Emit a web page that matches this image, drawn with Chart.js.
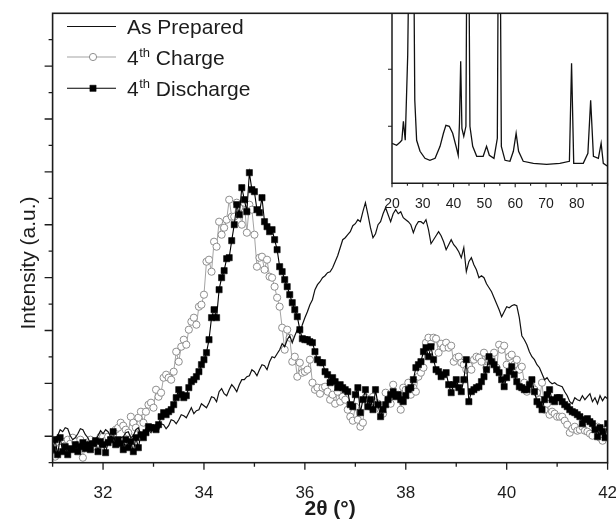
<!DOCTYPE html>
<html><head><meta charset="utf-8">
<script src="https://cdn.jsdelivr.net/npm/chart.js@4.4.1/dist/chart.umd.min.js"></script>
<style>
html,body{margin:0;padding:0;background:#fff;}
#wrap{position:relative;width:616px;height:522px;overflow:hidden;}
#main{position:absolute;left:0;top:0;}
#inset{position:absolute;left:370px;top:0;}
</style></head><body>
<div id="wrap"><canvas id="main" width="616" height="522"></canvas><canvas id="inset" width="246" height="210"></canvas></div>
<script>
// ---------- data ----------
const twoTheta = [
31,31.05,31.1,31.15,31.2,31.25,31.3,31.35,31.4,31.45,31.5,31.55,31.6,31.65,31.7,31.75,31.8,31.85,31.9,31.95,
32,32.05,32.1,32.15,32.2,32.25,32.3,32.35,32.4,32.45,32.5,32.55,32.6,32.65,32.7,32.75,32.8,32.85,32.9,32.95,
33,33.05,33.1,33.15,33.2,33.25,33.3,33.35,33.4,33.45,33.5,33.55,33.6,33.65,33.7,33.75,33.8,33.85,33.9,33.95,
34,34.05,34.1,34.15,34.2,34.25,34.3,34.35,34.4,34.45,34.5,34.55,34.6,34.65,34.7,34.75,34.8,34.85,34.9,34.95,
35,35.05,35.1,35.15,35.2,35.25,35.3,35.35,35.4,35.45,35.5,35.55,35.6,35.65,35.7,35.75,35.8,35.85,35.9,35.95,
36,36.05,36.1,36.15,36.2,36.25,36.3,36.35,36.4,36.45,36.5,36.55,36.6,36.65,36.7,36.75,36.8,36.85,36.9,36.95,
37,37.05,37.1,37.15,37.2,37.25,37.3,37.35,37.4,37.45,37.5,37.55,37.6,37.65,37.7,37.75,37.8,37.85,37.9,37.95,
38,38.05,38.1,38.15,38.2,38.25,38.3,38.35,38.4,38.45,38.5,38.55,38.6,38.65,38.7,38.75,38.8,38.85,38.9,38.95,
39,39.05,39.1,39.15,39.2,39.25,39.3,39.35,39.4,39.45,39.5,39.55,39.6,39.65,39.7,39.75,39.8,39.85,39.9,39.95,
40,40.05,40.1,40.15,40.2,40.25,40.3,40.35,40.4,40.45,40.5,40.55,40.6,40.65,40.7,40.75,40.8,40.85,40.9,40.95,
41,41.05,41.1,41.15,41.2,41.25,41.3,41.35,41.4,41.45,41.5,41.55,41.6,41.65,41.7,41.75,41.8,41.85,41.9,41.95,
42];

const asPrepared = [
23,25,27,33,31,35,34,27,23,25,29,34,33,28,25,19,18,23,27,32,
29,33,31,26,25,21,21,25,26,30,31,25,27,33,35,28,29,34,33,30,
35,38,33,39,38,34,37,43,42,39,43,48,47,45,50,55,49,52,53,59,
57,55,60,66,65,61,71,74,69,67,73,78,75,71,78,83,83,86,87,93,
91,87,93,98,97,93,101,106,105,109,113,119,116,123,127,120,127,133,129,138,
145,151,158,163,173,178,181,185,187,190,191,195,201,207,215,223,225,228,231,237,
239,243,241,251,260,248,235,225,229,238,241,249,255,248,241,249,253,249,251,245,
243,241,238,230,237,241,241,239,243,233,219,223,227,231,227,221,213,218,223,218,
215,211,205,215,191,201,205,198,193,185,187,185,179,175,171,165,159,153,146,151,
156,155,157,158,157,145,127,123,118,111,106,103,98,95,89,83,85,81,79,80,
78,77,76,71,67,61,59,65,63,62,67,63,66,69,61,65,59,67,62,66,
64];

const charge4 = [
13,6,18,15,21,17,23,19,25,21,18,23,5,16,20,23,16,21,18,26,
26,22,26,23,28,33,35,40,37,33,30,46,40,35,45,51,40,51,58,60,
55,73,66,70,85,88,85,83,91,111,101,116,123,118,133,141,145,138,156,158,
168,201,203,191,221,216,241,228,235,243,263,246,246,260,255,238,260,230,258,253,
228,196,205,206,193,203,186,185,176,165,156,135,113,133,125,101,106,86,100,90,
91,93,103,80,73,75,69,75,76,71,63,68,59,71,61,66,63,53,46,42,
56,43,36,40,65,58,56,66,60,59,53,49,70,63,59,78,68,68,53,75,
73,80,68,75,71,86,90,95,120,125,119,125,124,110,119,115,120,115,117,101,
105,106,100,98,93,97,93,103,106,105,101,110,95,103,100,110,95,118,113,117,
98,106,108,98,103,93,96,80,71,76,76,73,70,63,80,53,59,48,51,49,
46,46,46,42,38,30,34,36,32,33,36,32,31,29,27,36,36,25,22,33,
34];

const discharge4 = [
13,23,8,25,11,16,8,14,13,18,11,16,20,14,18,13,19,22,11,21,
18,10,20,23,31,18,23,19,13,23,15,21,11,25,15,28,25,30,36,35,
35,33,38,46,50,48,51,53,58,65,73,68,65,67,75,81,83,86,91,98,
103,110,123,145,153,145,173,185,192,204,205,222,238,258,248,275,263,251,290,273,
271,253,250,265,241,236,231,233,223,213,196,191,183,176,168,160,153,146,133,124,
123,123,121,120,111,103,100,100,91,88,80,85,81,75,78,75,73,71,58,56,
68,75,50,63,73,56,63,53,73,58,46,53,58,63,68,71,66,68,63,61,
67,73,75,83,95,98,101,111,115,106,116,103,93,91,86,88,90,78,70,78,
83,75,71,83,103,61,71,73,75,76,81,86,93,106,101,98,93,90,83,76,
85,91,96,88,81,76,75,73,73,78,83,71,61,58,53,63,68,73,63,61,
65,65,61,58,56,53,51,50,48,46,39,43,44,41,39,33,26,35,31,25,
39];

const seriesNames = ['As Prepared', '4th Charge', '4th Discharge'];
const xTickValues = [32, 34, 36, 38, 40, 42];
const xTickLabels = ['32', '34', '36', '38', '40', '42'];
const xMinorTicks = [31, 33, 35, 37, 39, 41];

// inset: full-range pattern
const insetTwoTheta = [20,21.5,22.6,23.2,23.7,24.3,25.1,25.8,26.3,26.9,27.4,28.0,29.1,30.7,32.3,34.0,35.6,36.7,37.5,38.6,
  39.7,40.8,41.5,41.9,42.3,42.7,43.3,44.0,44.6,45.3,46.2,47.5,49.6,50.7,51.6,53.1,54.2,54.8,55.5,56.7,
  58.3,59.4,60.3,61.1,62.6,65.9,70.2,74.5,77.6,78.3,79.0,82.1,83.6,84.5,85.4,87.0,87.9,88.6,90];
const insetIntensity = [40,38,41,43,62,43,128,300,420,300,83,43,32,25,23,25,37,50,58,57,
  50,37,28,60,122,55,47,57,420,57,37,27,27,37,28,25,45,420,37,23,
  22,32,50,32,22,20,19,20,22,120,20,20,30,83,27,25,40,20,17];
const insetTickValues = [20, 30, 40, 50, 60, 70, 80];
const insetTickLabels = ['20', '30', '40', '50', '60', '70', '80'];
const insetMinorTicks = [25, 35, 45, 55, 65, 75, 85, 90];
const insetYTicks = [57, 114];

// ---------- styling ----------
const INK = '#1c1c1c';
const FONT = '"Liberation Sans", Arial, Helvetica, sans-serif';
Chart.defaults.font.family = FONT;
Chart.defaults.color = INK;

const yTickStep = 26.44;
const yTicks = [];
for (let k = 0; k <= 16; k++) yTicks.push(k * yTickStep);

const pts = (xs, ys) => xs.map((x, i) => ({x, y: ys[i]}));

const framePlugin = {
  id: 'frame',
  afterDraw(chart) {
    const {ctx, chartArea: a} = chart;
    const xs = chart.scales.x, ys = chart.scales.y;
    ctx.save();
    ctx.strokeStyle = INK;
    ctx.lineWidth = 1.6;
    ctx.strokeRect(a.left, a.top, a.right - a.left, a.bottom - a.top);
    ctx.lineWidth = 1.3;
    ctx.beginPath();
    xTickValues.forEach(v => { const p = xs.getPixelForValue(v); ctx.moveTo(p, a.bottom); ctx.lineTo(p, a.bottom + 7); });
    xMinorTicks.forEach(v => { const p = xs.getPixelForValue(v); ctx.moveTo(p, a.bottom); ctx.lineTo(p, a.bottom + 4); });
    yTicks.forEach((v, i) => { const p = ys.getPixelForValue(v); const len = (i % 2 === 1) ? 8 : 4; ctx.moveTo(a.left, p); ctx.lineTo(a.left - len, p); });
    ctx.stroke();
    // y axis title
    ctx.save();
    ctx.translate(29, 263);
    ctx.rotate(-Math.PI / 2);
    ctx.font = '21px ' + FONT;
    ctx.fillStyle = INK;
    ctx.textAlign = 'center';
    ctx.textBaseline = 'middle';
    ctx.fillText('Intensity (a.u.)', 0, 0);
    ctx.restore();
    // legend
    const baselines = [33.5, 64.5, 95.5];
    const mids = [26.5, 57, 88.3];
    chart.data.datasets.forEach((ds, i) => {
      const my = mids[i];
      ctx.strokeStyle = ds.borderColor;
      ctx.lineWidth = ds.borderWidth;
      ctx.beginPath(); ctx.moveTo(67, my); ctx.lineTo(116, my); ctx.stroke();
      if (ds.pointRadius > 0) {
        ctx.fillStyle = ds.pointBackgroundColor;
        ctx.strokeStyle = ds.pointBorderColor;
        ctx.lineWidth = ds.pointBorderWidth;
        Chart.helpers.drawPoint(ctx, {pointStyle: ds.pointStyle, radius: ds.pointRadius, borderWidth: ds.pointBorderWidth, rotation: 0}, 93, my);
      }
      ctx.fillStyle = INK;
      ctx.textAlign = 'left';
      ctx.textBaseline = 'alphabetic';
      const m = /^(\d+)(st|nd|rd|th)(.*)$/.exec(ds.label);
      let x = 127;
      const big = '21px ' + FONT;
      if (m) {
        ctx.font = big;
        ctx.fillText(m[1], x, baselines[i]); x += ctx.measureText(m[1]).width + 0.5;
        ctx.font = '13px ' + FONT;
        ctx.fillText(m[2], x, baselines[i] - 8); x += ctx.measureText(m[2]).width;
        ctx.font = big;
        ctx.fillText(m[3], x, baselines[i]);
      } else {
        ctx.font = big;
        ctx.fillText(ds.label, x, baselines[i]);
      }
    });
    ctx.restore();
  }
};

new Chart(document.getElementById('main'), {
  type: 'line',
  data: {
    datasets: [
      {label: seriesNames[0], data: pts(twoTheta, asPrepared), borderColor: '#111', borderWidth: 1.2,
       pointRadius: 0, tension: 0, order: 1},
      {label: seriesNames[1], data: pts(twoTheta, charge4), borderColor: '#a3a3a3', borderWidth: 1,
       pointStyle: 'circle', pointRadius: 3.6, pointBorderWidth: 1, pointBorderColor: '#8e8e8e',
       pointBackgroundColor: '#ffffff', tension: 0, order: 2},
      {label: seriesNames[2], data: pts(twoTheta, discharge4), borderColor: '#000', borderWidth: 1.1,
       pointStyle: 'rect', pointRadius: 4.4, pointBorderWidth: 0.5, pointBorderColor: '#000',
       pointBackgroundColor: '#000', tension: 0, order: 0}
    ]
  },
  options: {
    responsive: false, animation: false, devicePixelRatio: 1, events: [],
    layout: {padding: {left: 0, right: 8.4, top: 13.3, bottom: 0}},
    plugins: {legend: {display: false}, tooltip: {enabled: false}},
    scales: {
      x: {
        type: 'linear', min: 31, max: 42,
        grid: {display: false}, border: {display: false},
        ticks: {stepSize: 1, autoSkip: false, maxRotation: 0, padding: 12, color: INK,
          font: {size: 17},
          callback: v => { const i = xTickValues.indexOf(v); return i >= 0 ? xTickLabels[i] : ''; }},
        title: {display: true, text: '2θ (°)', color: INK, font: {size: 21, weight: 'bold'}, padding: {top: 0, bottom: 0}},
        afterFit: s => { s.height = 59.3; s.paddingLeft = 0; s.paddingRight = 0; }
      },
      y: {
        type: 'linear', min: 0, max: 449.4,
        grid: {display: false}, border: {display: false},
        ticks: {display: false},
        afterBuildTicks: s => { s.ticks = yTicks.map(v => ({value: v})); },
        afterFit: s => { s.width = 52.6; s.paddingTop = 0; s.paddingBottom = 0; }
      }
    }
  },
  plugins: [framePlugin]
});

const insetFrame = {
  id: 'insetFrame',
  afterDraw(chart) {
    const {ctx, chartArea: a} = chart;
    const xs = chart.scales.x, ys = chart.scales.y;
    ctx.save();
    ctx.strokeStyle = INK;
    ctx.lineWidth = 1.5;
    ctx.beginPath();
    ctx.moveTo(a.left, a.top); ctx.lineTo(a.left, a.bottom); ctx.lineTo(a.right, a.bottom);
    ctx.stroke();
    ctx.lineWidth = 1.1;
    ctx.beginPath();
    insetTickValues.forEach(v => { const p = xs.getPixelForValue(v); ctx.moveTo(p, a.bottom); ctx.lineTo(p, a.bottom + 4); });
    insetMinorTicks.forEach(v => { const p = xs.getPixelForValue(v); ctx.moveTo(p, a.bottom); ctx.lineTo(p, a.bottom + 2.5); });
    insetYTicks.forEach(v => { const p = ys.getPixelForValue(v); ctx.moveTo(a.left, p); ctx.lineTo(a.left - 4, p); });
    ctx.stroke();
    ctx.restore();
  }
};

new Chart(document.getElementById('inset'), {
  type: 'line',
  data: {
    datasets: [{label: 'As Prepared (20–90°)', data: pts(insetTwoTheta, insetIntensity), borderColor: '#111',
      borderWidth: 1.3, pointRadius: 0, tension: 0}]
  },
  options: {
    responsive: false, animation: false, devicePixelRatio: 1, events: [],
    layout: {padding: {left: 0, right: 8.4, top: 13.3, bottom: 0}},
    plugins: {legend: {display: false}, tooltip: {enabled: false}},
    scales: {
      x: {
        type: 'linear', min: 20, max: 90,
        grid: {display: false}, border: {display: false},
        ticks: {stepSize: 10, autoSkip: false, maxRotation: 0, padding: 4, color: INK, font: {size: 14},
          callback: v => { const i = insetTickValues.indexOf(v); return i >= 0 ? insetTickLabels[i] : ''; }},
        afterFit: s => { s.height = 26.7; s.paddingLeft = 0; s.paddingRight = 0; }
      },
      y: {
        type: 'linear', min: 0, max: 170,
        grid: {display: false}, border: {display: false},
        ticks: {display: false},
        afterFit: s => { s.width = 22; }
      }
    }
  },
  plugins: [insetFrame]
});
</script>
</body></html>
